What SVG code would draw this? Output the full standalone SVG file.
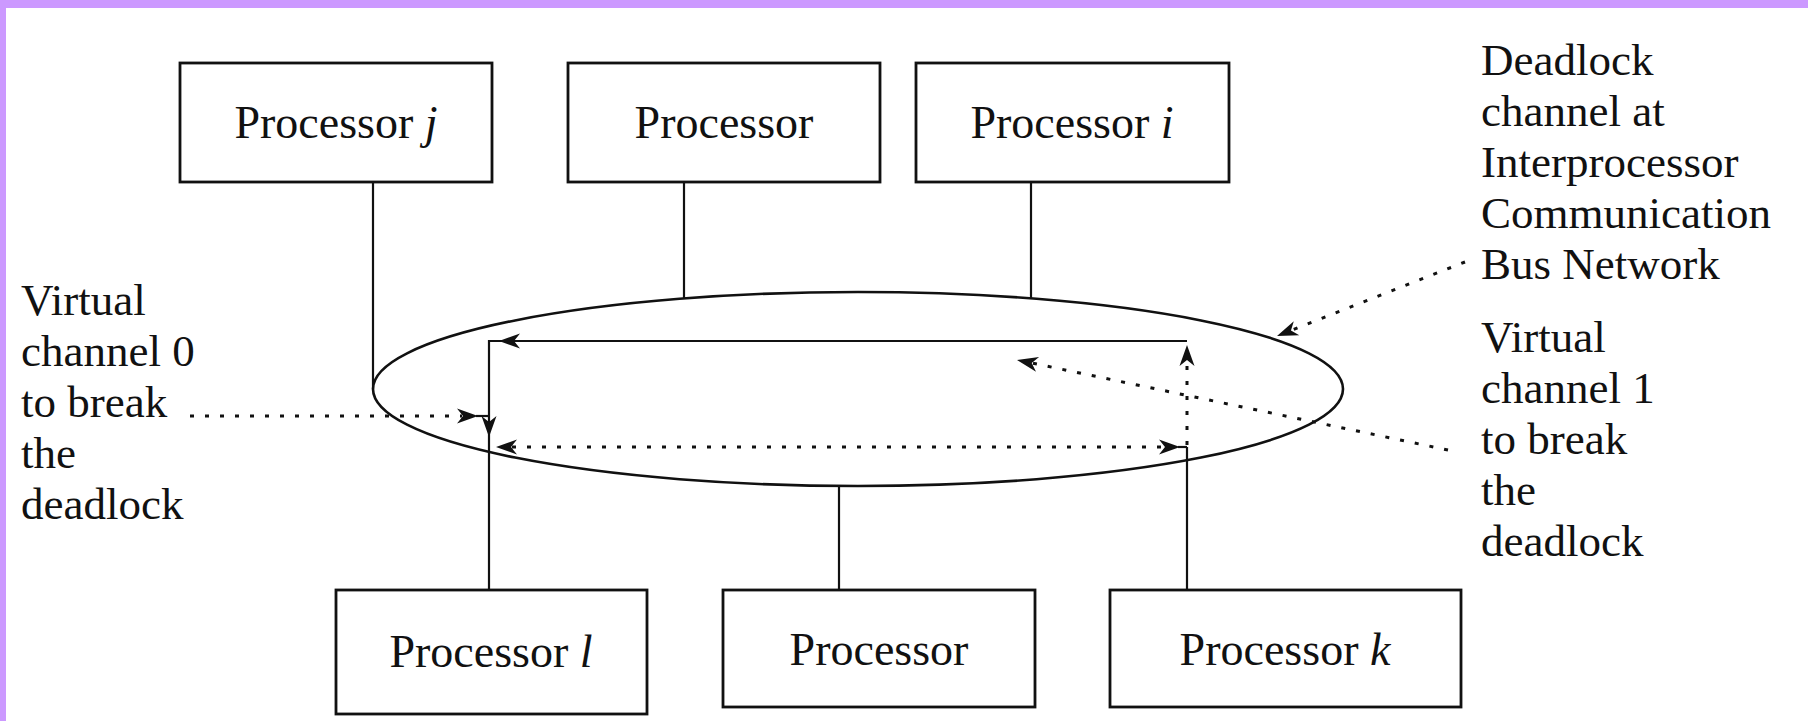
<svg xmlns="http://www.w3.org/2000/svg" xmlns:xlink="http://www.w3.org/1999/xlink" width="1808" height="721" viewBox="0 0 1808 721">
<style>
.box{fill:none;stroke:#111;stroke-width:2.8}
.ln{fill:none;stroke:#111;stroke-width:2.2}
.dot{fill:none;stroke:#111;stroke-width:3;stroke-dasharray:4 11}
.t{font-family:"Liberation Serif","Times New Roman",serif;font-size:46px;fill:#111;text-anchor:middle}
.lb{font-family:"Liberation Serif","Times New Roman",serif;font-size:45px;fill:#111}
</style>
<defs>
<path id="ah" d="M0,0 L-21,-7.5 L-15,0 L-21,7.5 Z" fill="#111"/>
</defs>
<rect x="0" y="0" width="1808" height="721" fill="#fff"/>
<rect x="0" y="0" width="1808" height="8" fill="#cc99ff"/>
<rect x="0" y="0" width="6" height="721" fill="#cc99ff"/>

<g id="bus">
<ellipse cx="858" cy="389" rx="485" ry="97" fill="none" stroke="#111" stroke-width="2.6"/>
</g>

<g id="proc-j"><rect class="box" x="180" y="63" width="312" height="119"/><text class="t" x="336" y="138">Processor <tspan font-style="italic">j</tspan></text></g>
<g id="proc-top"><rect class="box" x="568" y="63" width="312" height="119"/><text class="t" x="724" y="138">Processor</text></g>
<g id="proc-i"><rect class="box" x="916" y="63" width="313" height="119"/><text class="t" x="1072" y="138">Processor <tspan font-style="italic">i</tspan></text></g>
<g id="proc-l"><rect class="box" x="336" y="590" width="311" height="124"/><text class="t" x="491" y="667">Processor <tspan font-style="italic">l</tspan></text></g>
<g id="proc-bottom"><rect class="box" x="723" y="590" width="312" height="117"/><text class="t" x="879" y="665">Processor</text></g>
<g id="proc-k"><rect class="box" x="1110" y="590" width="351" height="117"/><text class="t" x="1285" y="665">Processor <tspan font-style="italic">k</tspan></text></g>

<g id="connectors">
<line class="ln" x1="373" y1="182" x2="373" y2="389"/>
<line class="ln" x1="684" y1="182" x2="684" y2="298"/>
<line class="ln" x1="1031" y1="182" x2="1031" y2="298"/>
<line class="ln" x1="839" y1="486" x2="839" y2="590"/>
<path class="ln" d="M1187,341 L489,341 L489,590" stroke-width="2.6"/>
<line class="ln" x1="1187" y1="447" x2="1187" y2="590"/>
<line class="ln" x1="476" y1="416" x2="489" y2="416"/>
<line class="ln" x1="1178" y1="447" x2="1187" y2="447"/>
<path class="dot" d="M190,416 L462,416"/>
<path class="dot" d="M512,447 L1164,447"/>
<path class="dot" d="M1187,445 L1187,362"/>
<path class="dot" d="M1448,450 L1032,363"/>
<path class="dot" d="M1465,262 L1292,330"/>
<use xlink:href="#ah" transform="translate(499,341) rotate(180)"/>
<use xlink:href="#ah" transform="translate(489,437) rotate(90)"/>
<use xlink:href="#ah" transform="translate(478,416)"/>
<use xlink:href="#ah" transform="translate(496,447) rotate(180)"/>
<use xlink:href="#ah" transform="translate(1180,447)"/>
<use xlink:href="#ah" transform="translate(1187,345) rotate(-90)"/>
<use xlink:href="#ah" transform="translate(1017,360) rotate(191.8)"/>
<use xlink:href="#ah" transform="translate(1277,336) rotate(158.5)"/>
</g>

<g id="label-vc0">
<text class="lb" x="21" y="315">Virtual</text>
<text class="lb" x="21" y="366">channel 0</text>
<text class="lb" x="21" y="417">to break</text>
<text class="lb" x="21" y="468">the</text>
<text class="lb" x="21" y="519">deadlock</text>
</g>
<g id="label-deadlock">
<text class="lb" x="1481" y="75">Deadlock</text>
<text class="lb" x="1481" y="126">channel at</text>
<text class="lb" x="1481" y="177">Interprocessor</text>
<text class="lb" x="1481" y="228">Communication</text>
<text class="lb" x="1481" y="279">Bus Network</text>
</g>
<g id="label-vc1">
<text class="lb" x="1481" y="352">Virtual</text>
<text class="lb" x="1481" y="403">channel 1</text>
<text class="lb" x="1481" y="454">to break</text>
<text class="lb" x="1481" y="505">the</text>
<text class="lb" x="1481" y="556">deadlock</text>
</g>
</svg>
